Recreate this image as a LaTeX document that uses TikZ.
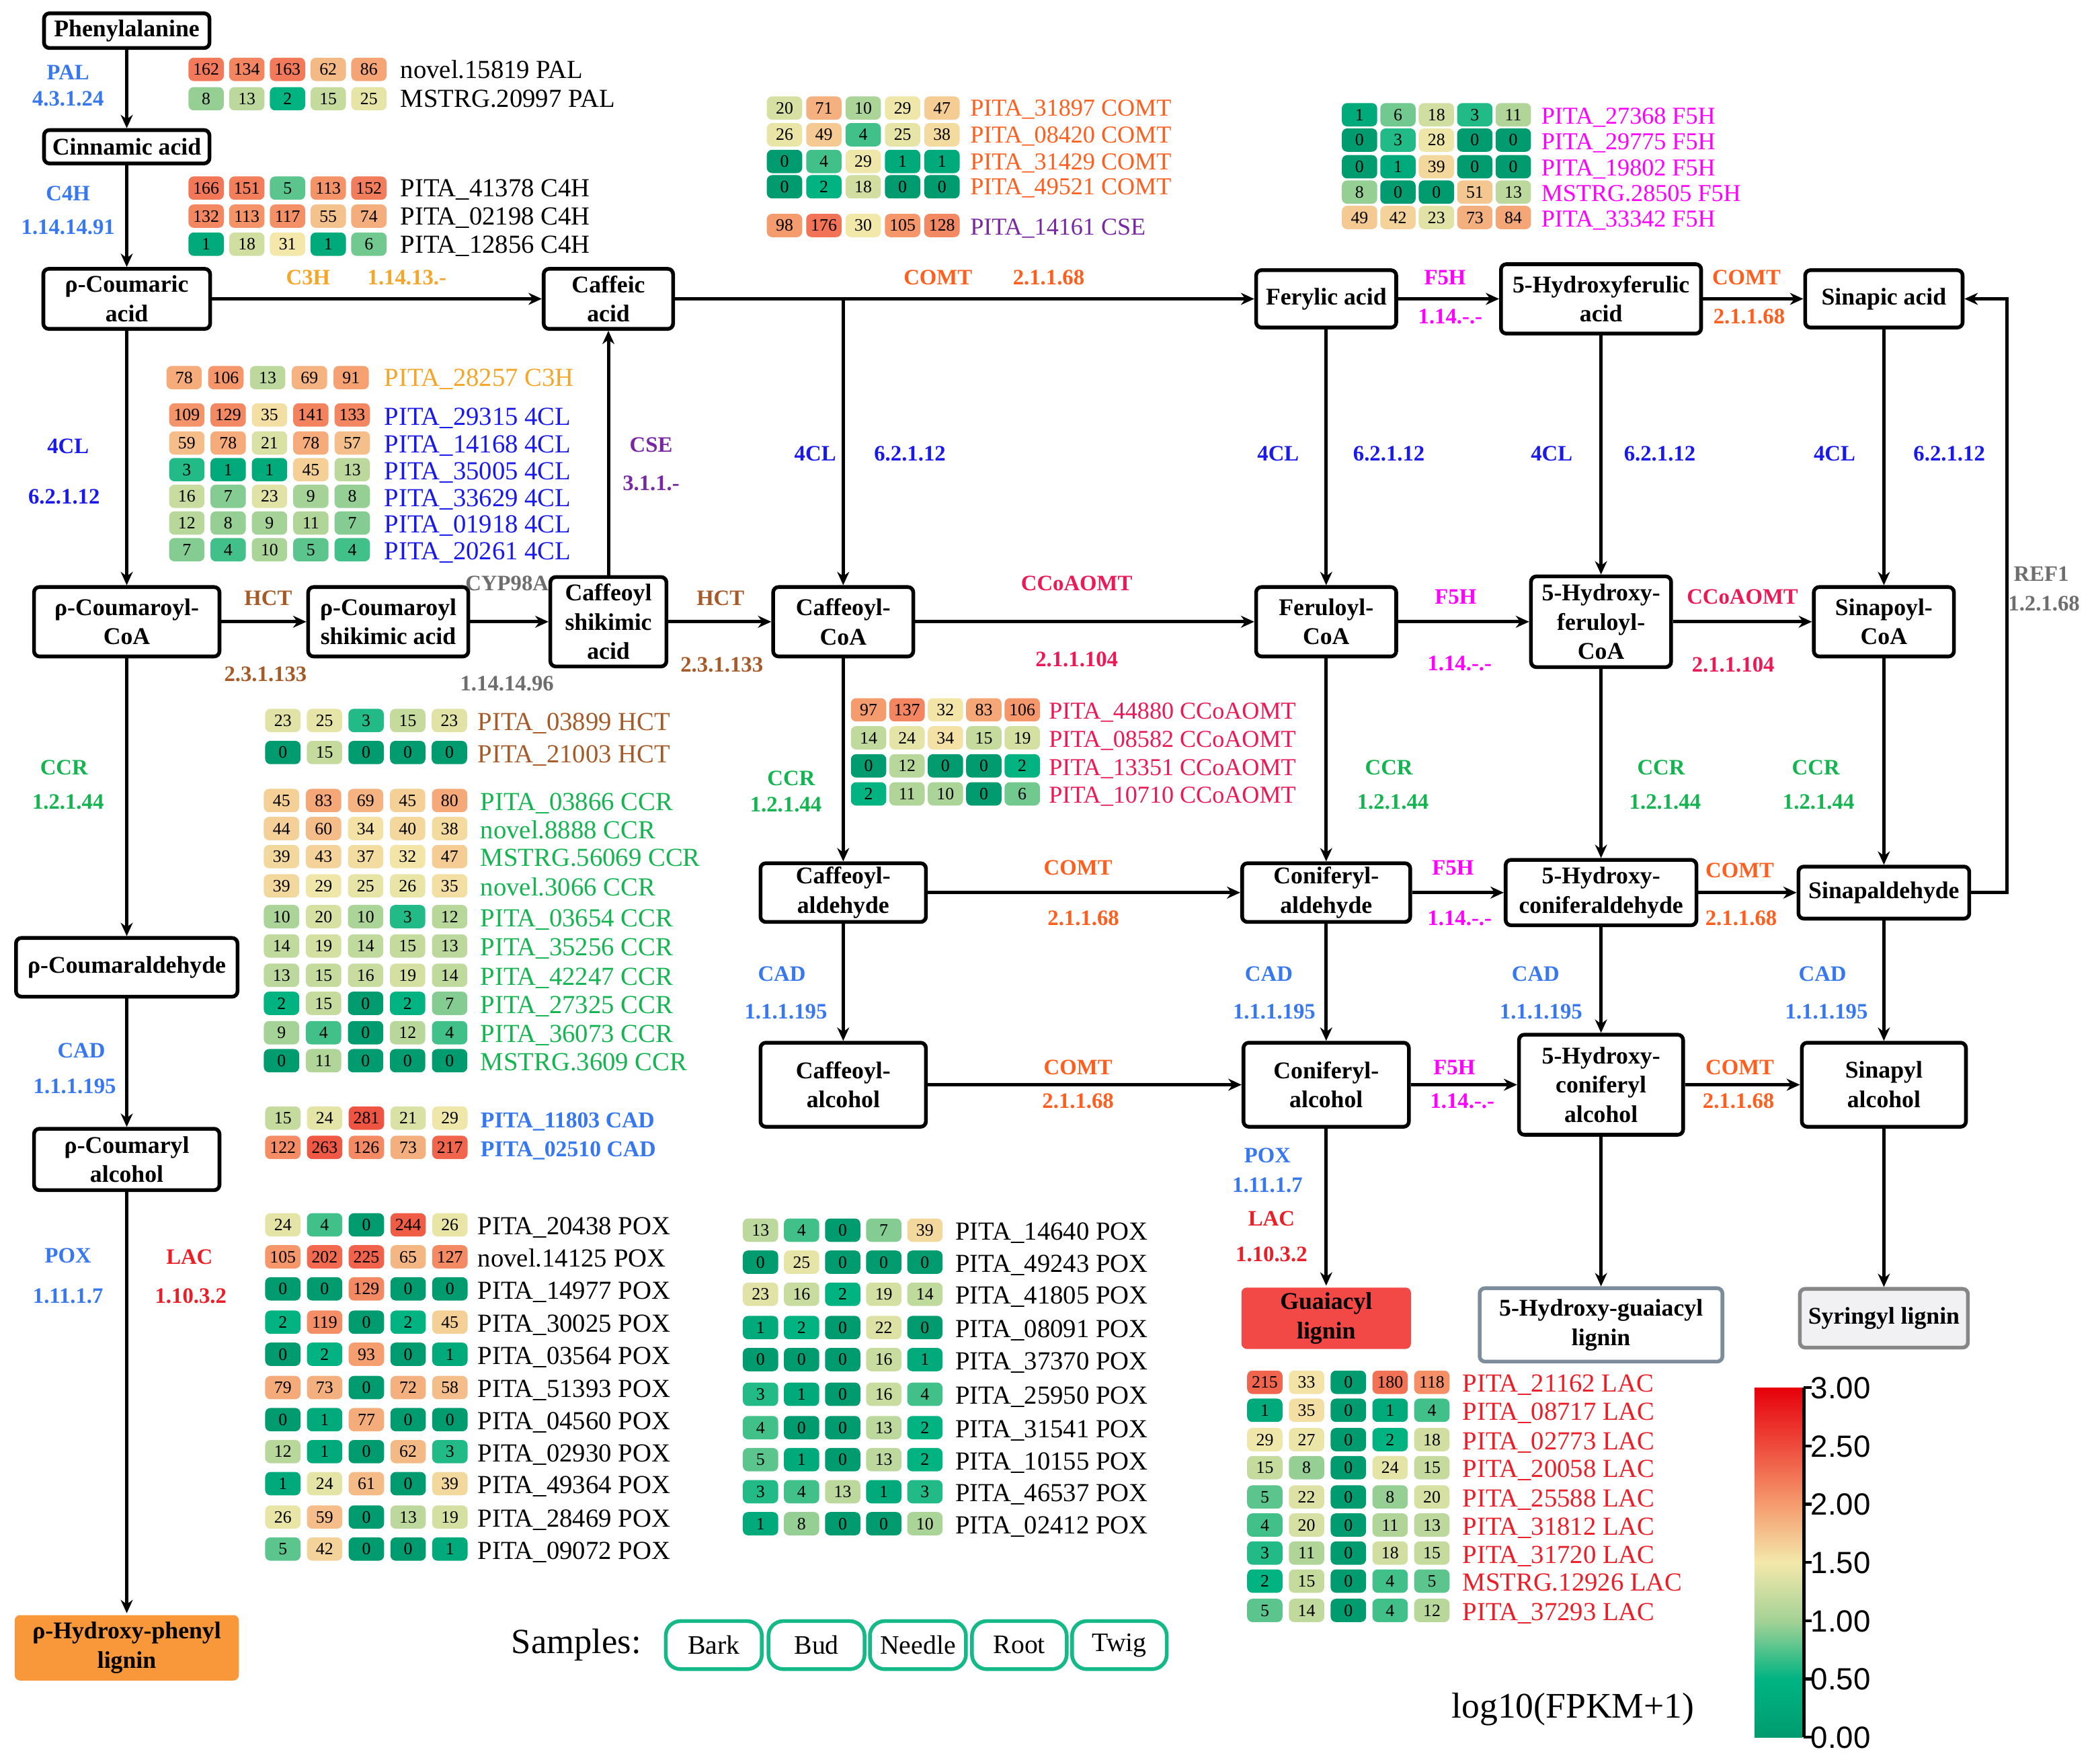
\documentclass[tikz,border=0pt]{standalone}
\usepackage{fontspec}
\setmainfont{Liberation Serif}
\newfontfamily\cbfont{Liberation Sans}
\usetikzlibrary{arrows.meta}
\definecolor{hmA}{RGB}{0,155,110}
\definecolor{hmB}{RGB}{0,180,130}
\definecolor{hmC}{RGB}{165,210,150}
\definecolor{hmD}{RGB}{243,232,170}
\definecolor{hmE}{RGB}{245,155,110}
\definecolor{hmF}{RGB}{238,75,60}
\definecolor{hmG}{RGB}{230,0,10}
\definecolor{cfb}{RGB}{55,120,240}
\definecolor{blu}{RGB}{25,25,235}
\definecolor{orng}{RGB}{245,165,40}
\definecolor{comtc}{RGB}{255,95,30}
\definecolor{mag}{RGB}{255,0,255}
\definecolor{purp}{RGB}{120,40,160}
\definecolor{brn}{RGB}{165,90,40}
\definecolor{gry}{RGB}{110,110,110}
\definecolor{crim}{RGB}{235,25,85}
\definecolor{grn}{RGB}{20,180,80}
\definecolor{lacr}{RGB}{235,30,40}
\definecolor{sampc}{RGB}{20,185,135}
\pgfdeclareverticalshading{cbar}{100bp}{color(0bp)=(hmA); color(25bp)=(hmA); color(33.333bp)=(hmB); color(41.667bp)=(hmC); color(50bp)=(hmD); color(58.333bp)=(hmE); color(66.667bp)=(hmF); color(75bp)=(hmG); color(100bp)=(hmG)}
\newcommand{\setcellcolor}[1]{%
  \pgfmathsetmacro{\lv}{log10(#1+1)}%
  \ifdim\lv pt<0.5pt
    \pgfmathsetmacro{\pp}{max(0,min(100,\lv*200))}\colorlet{cc}{hmB!\pp!hmA}%
  \else\ifdim\lv pt<1pt
    \pgfmathsetmacro{\pp}{(\lv-0.5)*200}\colorlet{cc}{hmC!\pp!hmB}%
  \else\ifdim\lv pt<1.5pt
    \pgfmathsetmacro{\pp}{(\lv-1)*200}\colorlet{cc}{hmD!\pp!hmC}%
  \else\ifdim\lv pt<2pt
    \pgfmathsetmacro{\pp}{(\lv-1.5)*200}\colorlet{cc}{hmE!\pp!hmD}%
  \else\ifdim\lv pt<2.5pt
    \pgfmathsetmacro{\pp}{(\lv-2)*200}\colorlet{cc}{hmF!\pp!hmE}%
  \else
    \pgfmathsetmacro{\pp}{min(100,(\lv-2.5)*200)}\colorlet{cc}{hmG!\pp!hmF}%
  \fi\fi\fi\fi\fi}
\newcommand{\hrow}[5]{%
  \foreach \v [count=\i] in {#5}{%
    \setcellcolor{\v}%
    \node[cell, fill=cc] (#1-\i) at ({#2+(\i-1)*#4},#3) {\v};
  }}
\newcommand{\enz}[5]{\node[enzst, text=#4] (#1) at (#2,#3) {#5};}
\newcommand{\glab}[5]{\node[gl, text=#4] (#1) at (#2,#3) {#5};}
\newcommand{\glabs}[5]{\node[gls, text=#4] (#1) at (#2,#3) {#5};}
\begin{document}
\begin{tikzpicture}[x=1pt,y=-1pt,
  box/.style={draw, line width=2.8pt, rounded corners=4pt, fill=white, align=center, inner sep=1pt, font=\bfseries\fontsize{18}{22}\selectfont},
  arr/.style={line width=2.5pt, -{Stealth[length=10pt,width=9pt]}},
  cell/.style={rounded corners=4pt, minimum width=26.5pt, minimum height=17.5pt, inner sep=0pt, font=\fontsize{13}{13}\selectfont, text height=8.6pt, text depth=0pt},
  enzst/.style={font=\bfseries\fontsize{16.5}{17}\selectfont, inner sep=0pt, text height=11.2pt, text depth=0pt},
  gl/.style={anchor=west, inner sep=0pt, font=\fontsize{19.5}{20}\selectfont, text height=12.9pt, text depth=0pt},
  gls/.style={anchor=west, inner sep=0pt, font=\fontsize{18.2}{19}\selectfont, text height=12pt, text depth=0pt},
  samp/.style={draw=sampc, line width=2.8pt, rounded corners=11pt, minimum height=36pt, inner sep=0pt, font=\fontsize{20}{20}\selectfont},
  cbl/.style={anchor=west, inner sep=0pt, font=\cbfont\fontsize{23}{23}\selectfont, text height=16.5pt, text depth=0pt}
]
\useasboundingbox (0,0) rectangle (1568,1322);
% ---------------- compounds
\node[box, minimum width=124pt, minimum height=26pt] (phe) at (95,23) {Phenylalanine};
\node[box, minimum width=124pt, minimum height=25pt] (cin) at (95,110) {Cinnamic acid};
\node[box, minimum width=125pt, minimum height=45pt] (pcum) at (95,224) {ρ-Coumaric\\acid};
\node[box, minimum width=97pt, minimum height=45pt] (caf) at (456,224) {Caffeic\\acid};
\node[box, minimum width=105pt, minimum height=43pt] (fer) at (994,224) {Ferylic acid};
\node[box, minimum width=150pt, minimum height=52pt] (hfer) at (1200,224) {5-Hydroxyferulic\\acid};
\node[box, minimum width=118pt, minimum height=43pt] (sin) at (1412,224) {Sinapic acid};
\node[box, minimum width=139pt, minimum height=52pt] (pcoa) at (95,466) {ρ-Coumaroyl-\\CoA};
\node[box, minimum width=120pt, minimum height=52pt] (pcsa) at (291,466) {ρ-Coumaroyl\\shikimic acid};
\node[box, minimum width=87pt, minimum height=67pt] (csa) at (456,466) {Caffeoyl\\shikimic\\acid};
\node[box, minimum width=105pt, minimum height=52pt] (cafcoa) at (632,466) {Caffeoyl-\\CoA};
\node[box, minimum width=105pt, minimum height=52pt] (fercoa) at (994,466) {Feruloyl-\\CoA};
\node[box, minimum width=105pt, minimum height=68pt] (hfercoa) at (1200,466) {5-Hydroxy-\\feruloyl-\\CoA};
\node[box, minimum width=105pt, minimum height=52pt] (sincoa) at (1412,466) {Sinapoyl-\\CoA};
\node[box, minimum width=124pt, minimum height=44pt] (cafald) at (632,669) {Caffeoyl-\\aldehyde};
\node[box, minimum width=126pt, minimum height=44pt] (conald) at (994,669) {Coniferyl-\\aldehyde};
\node[box, minimum width=143pt, minimum height=49pt] (hconald) at (1200,669) {5-Hydroxy-\\coniferaldehyde};
\node[box, minimum width=128pt, minimum height=39pt] (sinald) at (1412,669) {Sinapaldehyde};
\node[box, minimum width=166pt, minimum height=44pt] (pcald) at (95,725) {ρ-Coumaraldehyde};
\node[box, minimum width=124pt, minimum height=63pt] (cafalc) at (632,813) {Caffeoyl-\\alcohol};
\node[box, minimum width=124pt, minimum height=63pt] (conalc) at (994,813) {Coniferyl-\\alcohol};
\node[box, minimum width=123pt, minimum height=75pt] (hconalc) at (1200,813) {5-Hydroxy-\\coniferyl\\alcohol};
\node[box, minimum width=123pt, minimum height=63pt] (sinalc) at (1412,813) {Sinapyl\\alcohol};
\node[box, minimum width=139pt, minimum height=46pt] (pcalc) at (95,869) {ρ-Coumaryl\\alcohol};
\node[box, draw=none, fill={rgb,255:red,242;green,72;blue,70}, minimum width=127pt, minimum height=46pt] (glig) at (994,988) {Guaiacyl\\lignin};
\node[box, draw={rgb,255:red,125;green,140;blue,155}, minimum width=182pt, minimum height=55pt] (hglig) at (1200,993) {5-Hydroxy-guaiacyl\\lignin};
\node[box, draw={rgb,255:red,135;green,135;blue,135}, fill={rgb,255:red,241;green,241;blue,243}, minimum width=126pt, minimum height=44pt] (slig) at (1412,988) {Syringyl lignin};
\node[box, draw=none, fill={rgb,255:red,249;green,152;blue,58}, minimum width=168pt, minimum height=49pt] (hplig) at (95,1235) {ρ-Hydroxy-phenyl\\lignin};
% ---------------- connectors
\draw[arr] (phe) -- (cin);
\draw[arr] (cin) -- (pcum);
\draw[arr] (pcum) -- (caf);
\draw[arr] (caf) -- (fer);
\draw[arr] (caf.east -| cafcoa.north) -- (cafcoa.north);
\draw[arr] (fer) -- (hfer);
\draw[arr] (hfer) -- (sin);
\draw[arr] (pcum) -- (pcoa);
\draw[arr] (csa) -- (caf);
\draw[arr] (pcoa) -- (pcsa);
\draw[arr] (pcsa) -- (csa);
\draw[arr] (csa) -- (cafcoa);
\draw[arr] (cafcoa) -- (fercoa);
\draw[arr] (fercoa) -- (hfercoa);
\draw[arr] (hfercoa) -- (sincoa);
\draw[arr] (fer) -- (fercoa);
\draw[arr] (hfer) -- (hfercoa);
\draw[arr] (sin) -- (sincoa);
\draw[arr] (pcoa) -- (pcald);
\draw[arr] (cafcoa) -- (cafald);
\draw[arr] (fercoa) -- (conald);
\draw[arr] (hfercoa) -- (hconald);
\draw[arr] (sincoa) -- (sinald);
\draw[arr] (cafald) -- (conald);
\draw[arr] (conald) -- (hconald);
\draw[arr] (hconald) -- (sinald);
\draw[arr] (sinald.east) -- ++(27,0) |- (sin.east);
\draw[arr] (pcald) -- (pcalc);
\draw[arr] (cafald) -- (cafalc);
\draw[arr] (conald) -- (conalc);
\draw[arr] (hconald) -- (hconalc);
\draw[arr] (sinald) -- (sinalc);
\draw[arr] (cafalc) -- (conalc);
\draw[arr] (conalc) -- (hconalc);
\draw[arr] (hconalc) -- (sinalc);
\draw[arr] (pcalc) -- (hplig);
\draw[arr] (conalc) -- (glig);
\draw[arr] (hconalc) -- (hglig);
\draw[arr] (sinalc) -- (slig);
% ---------------- enzyme labels
\enz{pal}{51}{54}{cfb}{PAL}
\enz{paln}{51}{74}{cfb}{4.3.1.24}
\enz{c4h}{51}{145}{cfb}{C4H}
\enz{c4hn}{51}{170}{cfb}{1.14.14.91}
\enz{c3h}{231}{208}{orng}{C3H}
\enz{c3hn}{305}{208}{orng}{1.14.13.-}
\enz{comtA}{703}{208}{comtc}{COMT}
\enz{comtAn}{786}{208}{comtc}{2.1.1.68}
\enz{f5hA}{1083}{208}{mag}{F5H}
\enz{f5hAn}{1087}{237}{mag}{1.14.-.-}
\enz{comtB}{1309}{208}{comtc}{COMT}
\enz{comtBn}{1311}{237}{comtc}{2.1.1.68}
\enz{clA}{51}{334}{blu}{4CL}
\enz{clAn}{48}{372}{blu}{6.2.1.12}
\enz{cse}{488}{333}{purp}{CSE}
\enz{csen}{488}{362}{purp}{3.1.1.-}
\enz{clB}{611}{340}{blu}{4CL}
\enz{clBn}{682}{340}{blu}{6.2.1.12}
\enz{clC}{958}{340}{blu}{4CL}
\enz{clCn}{1041}{340}{blu}{6.2.1.12}
\enz{clD}{1163}{340}{blu}{4CL}
\enz{clDn}{1244}{340}{blu}{6.2.1.12}
\enz{clE}{1375}{340}{blu}{4CL}
\enz{clEn}{1461}{340}{blu}{6.2.1.12}
\enz{ref}{1530}{430}{gry}{REF1}
\enz{refn}{1532}{452}{gry}{1.2.1.68}
\enz{hctA}{201}{448}{brn}{HCT}
\enz{hctAn}{199}{505}{brn}{2.3.1.133}
\enz{cyp}{380}{437}{gry}{CYP98A}
\enz{cypn}{380}{512}{gry}{1.14.14.96}
\enz{hctB}{540}{448}{brn}{HCT}
\enz{hctBn}{541}{498}{brn}{2.3.1.133}
\enz{ccoA}{807}{437}{crim}{CCoAOMT}
\enz{ccoAn}{807}{494}{crim}{2.1.1.104}
\enz{f5hB}{1091}{447}{mag}{F5H}
\enz{f5hBn}{1094}{497}{mag}{1.14.-.-}
\enz{ccoB}{1306}{447}{crim}{CCoAOMT}
\enz{ccoBn}{1299}{498}{crim}{2.1.1.104}
\enz{ccrA}{48}{575}{grn}{CCR}
\enz{ccrAn}{51}{601}{grn}{1.2.1.44}
\enz{ccrB}{593}{583}{grn}{CCR}
\enz{ccrBn}{589}{603}{grn}{1.2.1.44}
\enz{ccrC}{1041}{575}{grn}{CCR}
\enz{ccrCn}{1044}{601}{grn}{1.2.1.44}
\enz{ccrD}{1245}{575}{grn}{CCR}
\enz{ccrDn}{1248}{601}{grn}{1.2.1.44}
\enz{ccrE}{1361}{575}{grn}{CCR}
\enz{ccrEn}{1363}{601}{grn}{1.2.1.44}
\enz{comtC}{808}{650}{comtc}{COMT}
\enz{comtCn}{812}{688}{comtc}{2.1.1.68}
\enz{f5hC}{1089}{650}{mag}{F5H}
\enz{f5hCn}{1094}{688}{mag}{1.14.-.-}
\enz{comtD}{1304}{652}{comtc}{COMT}
\enz{comtDn}{1305}{688}{comtc}{2.1.1.68}
\enz{cadA}{586}{730}{cfb}{CAD}
\enz{cadAn}{589}{758}{cfb}{1.1.1.195}
\enz{cadB}{951}{730}{cfb}{CAD}
\enz{cadBn}{955}{758}{cfb}{1.1.1.195}
\enz{cadC}{1151}{730}{cfb}{CAD}
\enz{cadCn}{1155}{758}{cfb}{1.1.1.195}
\enz{cadD}{1366}{730}{cfb}{CAD}
\enz{cadDn}{1369}{758}{cfb}{1.1.1.195}
\enz{cadE}{61}{787}{cfb}{CAD}
\enz{cadEn}{56}{814}{cfb}{1.1.1.195}
\enz{comtE}{808}{800}{comtc}{COMT}
\enz{comtEn}{808}{825}{comtc}{2.1.1.68}
\enz{f5hD}{1090}{800}{mag}{F5H}
\enz{f5hDn}{1096}{825}{mag}{1.14.-.-}
\enz{comtF}{1304}{800}{comtc}{COMT}
\enz{comtFn}{1303}{825}{comtc}{2.1.1.68}
\enz{poxA}{51}{941}{cfb}{POX}
\enz{poxAn}{51}{971}{cfb}{1.11.1.7}
\enz{lacA}{142}{942}{lacr}{LAC}
\enz{lacAn}{143}{971}{lacr}{1.10.3.2}
\enz{poxB}{950}{866}{cfb}{POX}
\enz{poxBn}{950}{888}{cfb}{1.11.1.7}
\enz{lacB}{953}{913}{lacr}{LAC}
\enz{lacBn}{953}{940}{lacr}{1.10.3.2}
% ---------------- heatmaps
% PAL
\hrow{pa1}{154.5}{52}{30.5}{162,134,163,62,86}
\hrow{pa2}{154.5}{74}{30.5}{8,13,2,15,25}
\glab{gpa1}{300}{52}{black}{novel.15819 PAL}
\glab{gpa2}{300}{74}{black}{MSTRG.20997 PAL}
% C4H
\hrow{ch1}{154.5}{141}{30.5}{166,151,5,113,152}
\hrow{ch2}{154.5}{162}{30.5}{132,113,117,55,74}
\hrow{ch3}{154.5}{183}{30.5}{1,18,31,1,6}
\glab{gch1}{300}{141}{black}{PITA\_41378 C4H}
\glab{gch2}{300}{162}{black}{PITA\_02198 C4H}
\glab{gch3}{300}{183}{black}{PITA\_12856 C4H}
% COMT / CSE
\hrow{co1}{588}{81}{29.5}{20,71,10,29,47}
\hrow{co2}{588}{101}{29.5}{26,49,4,25,38}
\hrow{co3}{588}{121}{29.5}{0,4,29,1,1}
\hrow{co4}{588}{140}{29.5}{0,2,18,0,0}
\hrow{cs1}{588}{169}{29.5}{98,176,30,105,128}
\glabs{gco1}{727}{81}{comtc}{PITA\_31897 COMT}
\glabs{gco2}{727}{101}{comtc}{PITA\_08420 COMT}
\glabs{gco3}{727}{121}{comtc}{PITA\_31429 COMT}
\glabs{gco4}{727}{140}{comtc}{PITA\_49521 COMT}
\glabs{gcs1}{727}{170}{purp}{PITA\_14161 CSE}
% F5H
\hrow{fh1}{1019}{86}{28.8}{1,6,18,3,11}
\hrow{fh2}{1019}{105}{28.8}{0,3,28,0,0}
\hrow{fh3}{1019}{125}{28.8}{0,1,39,0,0}
\hrow{fh4}{1019}{144}{28.8}{8,0,0,51,13}
\hrow{fh5}{1019}{163}{28.8}{49,42,23,73,84}
\glabs{gfh1}{1155}{87}{mag}{PITA\_27368 F5H}
\glabs{gfh2}{1155}{106}{mag}{PITA\_29775 F5H}
\glabs{gfh3}{1155}{126}{mag}{PITA\_19802 F5H}
\glabs{gfh4}{1155}{145}{mag}{MSTRG.28505 F5H}
\glabs{gfh5}{1155}{164}{mag}{PITA\_33342 F5H}
% C3H
\hrow{c31}{138}{283}{31.3}{78,106,13,69,91}
\glab{gc31}{288}{283}{orng}{PITA\_28257 C3H}
% 4CL
\hrow{cl1}{140}{311}{31}{109,129,35,141,133}
\hrow{cl2}{140}{332}{31}{59,78,21,78,57}
\hrow{cl3}{140}{352}{31}{3,1,1,45,13}
\hrow{cl4}{140}{372}{31}{16,7,23,9,8}
\hrow{cl5}{140}{392}{31}{12,8,9,11,7}
\hrow{cl6}{140}{412}{31}{7,4,10,5,4}
\glab{gcl1}{288}{312}{blu}{PITA\_29315 4CL}
\glab{gcl2}{288}{333}{blu}{PITA\_14168 4CL}
\glab{gcl3}{288}{353}{blu}{PITA\_35005 4CL}
\glab{gcl4}{288}{373}{blu}{PITA\_33629 4CL}
\glab{gcl5}{288}{393}{blu}{PITA\_01918 4CL}
\glab{gcl6}{288}{413}{blu}{PITA\_20261 4CL}
% HCT
\hrow{hc1}{212}{540}{31.2}{23,25,3,15,23}
\hrow{hc2}{212}{564}{31.2}{0,15,0,0,0}
\glab{ghc1}{358}{541}{brn}{PITA\_03899 HCT}
\glab{ghc2}{358}{565}{brn}{PITA\_21003 HCT}
% CCR
\hrow{cr1}{211}{600}{31.5}{45,83,69,45,80}
\hrow{cr2}{211}{621}{31.5}{44,60,34,40,38}
\hrow{cr3}{211}{642}{31.5}{39,43,37,32,47}
\hrow{cr4}{211}{664}{31.5}{39,29,25,26,35}
\hrow{cr5}{211}{687}{31.5}{10,20,10,3,12}
\hrow{cr6}{211}{709}{31.5}{14,19,14,15,13}
\hrow{cr7}{211}{731}{31.5}{13,15,16,19,14}
\hrow{cr8}{211}{752}{31.5}{2,15,0,2,7}
\hrow{cr9}{211}{774}{31.5}{9,4,0,12,4}
\hrow{cr10}{211}{795}{31.5}{0,11,0,0,0}
\glab{gcr1}{360}{601}{grn}{PITA\_03866 CCR}
\glab{gcr2}{360}{622}{grn}{novel.8888 CCR}
\glab{gcr3}{360}{643}{grn}{MSTRG.56069 CCR}
\glab{gcr4}{360}{665}{grn}{novel.3066 CCR}
\glab{gcr5}{360}{688}{grn}{PITA\_03654 CCR}
\glab{gcr6}{360}{710}{grn}{PITA\_35256 CCR}
\glab{gcr7}{360}{732}{grn}{PITA\_42247 CCR}
\glab{gcr8}{360}{753}{grn}{PITA\_27325 CCR}
\glab{gcr9}{360}{775}{grn}{PITA\_36073 CCR}
\glab{gcr10}{360}{796}{grn}{MSTRG.3609 CCR}
% CAD
\hrow{cd1}{212}{838}{31.3}{15,24,281,21,29}
\hrow{cd2}{212}{860}{31.3}{122,263,126,73,217}
\node[gls, text=cfb, font=\bfseries\fontsize{17}{18}\selectfont] (gcd1) at (360,839) {PITA\_11803 CAD};
\node[gls, text=cfb, font=\bfseries\fontsize{17}{18}\selectfont] (gcd2) at (360,861) {PITA\_02510 CAD};
% POX left
\hrow{px1}{212}{918}{31.3}{24,4,0,244,26}
\hrow{px2}{212}{942}{31.3}{105,202,225,65,127}
\hrow{px3}{212}{966}{31.3}{0,0,129,0,0}
\hrow{px4}{212}{991}{31.3}{2,119,0,2,45}
\hrow{px5}{212}{1015}{31.3}{0,2,93,0,1}
\hrow{px6}{212}{1040}{31.3}{79,73,0,72,58}
\hrow{px7}{212}{1064}{31.3}{0,1,77,0,0}
\hrow{px8}{212}{1088}{31.3}{12,1,0,62,3}
\hrow{px9}{212}{1112}{31.3}{1,24,61,0,39}
\hrow{px10}{212}{1137}{31.3}{26,59,0,13,19}
\hrow{px11}{212}{1161}{31.3}{5,42,0,0,1}
\glab{gpx1}{358}{919}{black}{PITA\_20438 POX}
\glab{gpx2}{358}{943}{black}{novel.14125 POX}
\glab{gpx3}{358}{967}{black}{PITA\_14977 POX}
\glab{gpx4}{358}{992}{black}{PITA\_30025 POX}
\glab{gpx5}{358}{1016}{black}{PITA\_03564 POX}
\glab{gpx6}{358}{1041}{black}{PITA\_51393 POX}
\glab{gpx7}{358}{1065}{black}{PITA\_04560 POX}
\glab{gpx8}{358}{1089}{black}{PITA\_02930 POX}
\glab{gpx9}{358}{1113}{black}{PITA\_49364 POX}
\glab{gpx10}{358}{1138}{black}{PITA\_28469 POX}
\glab{gpx11}{358}{1162}{black}{PITA\_09072 POX}
% POX middle
\hrow{pm1}{570}{922}{30.8}{13,4,0,7,39}
\hrow{pm2}{570}{946}{30.8}{0,25,0,0,0}
\hrow{pm3}{570}{970}{30.8}{23,16,2,19,14}
\hrow{pm4}{570}{995}{30.8}{1,2,0,22,0}
\hrow{pm5}{570}{1019}{30.8}{0,0,0,16,1}
\hrow{pm6}{570}{1045}{30.8}{3,1,0,16,4}
\hrow{pm7}{570}{1070}{30.8}{4,0,0,13,2}
\hrow{pm8}{570}{1094}{30.8}{5,1,0,13,2}
\hrow{pm9}{570}{1118}{30.8}{3,4,13,1,3}
\hrow{pm10}{570}{1142}{30.8}{1,8,0,0,10}
\glab{gpm1}{716}{923}{black}{PITA\_14640 POX}
\glab{gpm2}{716}{947}{black}{PITA\_49243 POX}
\glab{gpm3}{716}{971}{black}{PITA\_41805 POX}
\glab{gpm4}{716}{996}{black}{PITA\_08091 POX}
\glab{gpm5}{716}{1020}{black}{PITA\_37370 POX}
\glab{gpm6}{716}{1046}{black}{PITA\_25950 POX}
\glab{gpm7}{716}{1071}{black}{PITA\_31541 POX}
\glab{gpm8}{716}{1095}{black}{PITA\_10155 POX}
\glab{gpm9}{716}{1119}{black}{PITA\_46537 POX}
\glab{gpm10}{716}{1143}{black}{PITA\_02412 POX}
% CCoAOMT
\hrow{cc1}{651}{532}{28.8}{97,137,32,83,106}
\hrow{cc2}{651}{553}{28.8}{14,24,34,15,19}
\hrow{cc3}{651}{574}{28.8}{0,12,0,0,2}
\hrow{cc4}{651}{595}{28.8}{2,11,10,0,6}
\glabs{gcc1}{786}{533}{crim}{PITA\_44880 CCoAOMT}
\glabs{gcc2}{786}{554}{crim}{PITA\_08582 CCoAOMT}
\glabs{gcc3}{786}{575}{crim}{PITA\_13351 CCoAOMT}
\glabs{gcc4}{786}{596}{crim}{PITA\_10710 CCoAOMT}
% LAC
\hrow{la1}{948}{1036}{31.3}{215,33,0,180,118}
\hrow{la2}{948}{1057}{31.3}{1,35,0,1,4}
\hrow{la3}{948}{1079}{31.3}{29,27,0,2,18}
\hrow{la4}{948}{1100}{31.3}{15,8,0,24,15}
\hrow{la5}{948}{1122}{31.3}{5,22,0,8,20}
\hrow{la6}{948}{1143}{31.3}{4,20,0,11,13}
\hrow{la7}{948}{1164}{31.3}{3,11,0,18,15}
\hrow{la8}{948}{1185}{31.3}{2,15,0,4,5}
\hrow{la9}{948}{1207}{31.3}{5,14,0,4,12}
\glab{gla1}{1096}{1037}{lacr}{PITA\_21162 LAC}
\glab{gla2}{1096}{1058}{lacr}{PITA\_08717 LAC}
\glab{gla3}{1096}{1080}{lacr}{PITA\_02773 LAC}
\glab{gla4}{1096}{1101}{lacr}{PITA\_20058 LAC}
\glab{gla5}{1096}{1123}{lacr}{PITA\_25588 LAC}
\glab{gla6}{1096}{1144}{lacr}{PITA\_31812 LAC}
\glab{gla7}{1096}{1165}{lacr}{PITA\_31720 LAC}
\glab{gla8}{1096}{1186}{lacr}{MSTRG.12926 LAC}
\glab{gla9}{1096}{1208}{lacr}{PITA\_37293 LAC}
% ---------------- samples legend
\node[inner sep=0pt, font=\fontsize{26.5}{27}\selectfont] (samplab) at (432,1233) {Samples:};
\node[samp, minimum width=72pt] (sbark) at (535,1233) {Bark};
\node[samp, minimum width=72pt] (sbud) at (612,1233) {Bud};
\node[samp, minimum width=72pt] (sneedle) at (688,1233) {Needle};
\node[samp, minimum width=71pt] (sroot) at (764,1233) {Root};
\node[samp, minimum width=71pt] (stwig) at (839,1233) {Twig};
% ---------------- colour bar
\shade[shading=cbar] (1315,1040) rectangle (1351,1302);
\draw[line width=2.5pt] (1352,1040) -- (1352,1302);
\foreach \t/\lab in {0/0.00,1/0.50,2/1.00,3/1.50,4/2.00,5/2.50,6/3.00}{
  \draw[line width=2.2pt] (1352,{1302-\t*43.67}) -- ++(6,0);
  \node[cbl] (cb\t) at (1357,{1302-\t*43.67}) {\lab};
}
\node[inner sep=0pt, font=\fontsize{27}{28}\selectfont] (cbtitle) at (1179,1281) {log10(FPKM+1)};
\end{tikzpicture}
\end{document}
